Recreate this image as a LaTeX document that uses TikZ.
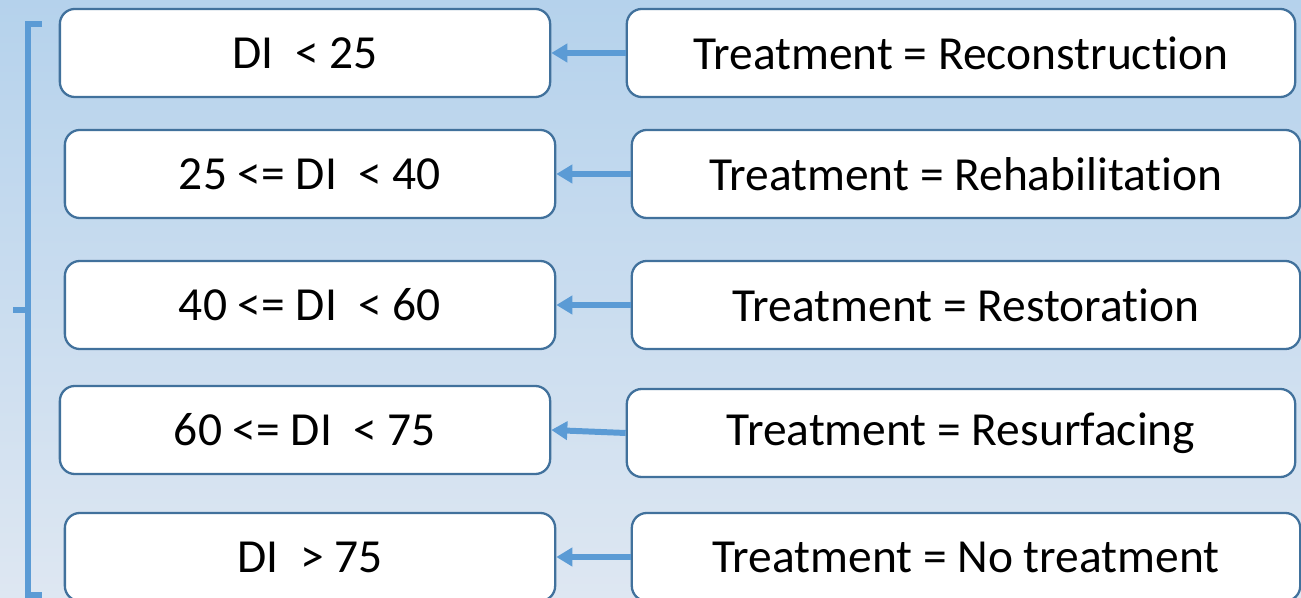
\documentclass[tikz,border=0pt]{standalone}
\usepackage{fontspec}
\setmainfont[Ligatures={NoCommon,NoContextual},Contextuals=NoAlternate]{Carlito}
\usepackage{tikz}
\usetikzlibrary{arrows.meta}
\definecolor{bgtop}{RGB}{181,210,236}
\definecolor{bgbottom}{RGB}{222,231,242}
\definecolor{boxline}{RGB}{65,113,156}
\definecolor{arrowblue}{RGB}{91,155,213}

\begin{document}
\begin{tikzpicture}[x=0.01cm,y=-0.01cm,
    rangebox/.style={draw=boxline,line width=0.65pt,fill=white,rounded corners=0.15cm,
      minimum width=4.9cm,minimum height=0.88cm,font=\fontsize{13.5}{16}\selectfont},
    treatbox/.style={rangebox,minimum width=6.68cm},
    toarrow/.style={draw=arrowblue,line width=1.7pt,-{Triangle[length=0.16cm,width=0.18cm]}}]
      \useasboundingbox (0,0) rectangle (1301,598);
      \shade [top color=bgtop,bottom color=bgbottom] (0,0) rectangle (1301,598);
      \draw [arrowblue,line width=1.7pt] (42,24) -- (28,24) -- (28,595) -- (42,595);
      \draw [arrowblue,line width=1.7pt] (28,310) -- (13,310);
      \node [rangebox] (range 1) at (305,53) {DI~~< 25};
      \node [rangebox] (range 2) at (310,174) {25 <= DI~~< 40};
      \node [rangebox] (range 3) at (310,305) {40 <= DI~~< 60};
      \node [rangebox] (range 4) at (305,430) {60 <= DI~~< 75};
      \node [rangebox] (range 5) at (310,557) {DI~~> 75};
      \node [treatbox] (treat 1) at (961,53) {Treatment = Reconstruction};
      \node [treatbox] (treat 2) at (966,174) {Treatment = Rehabilitation};
      \node [treatbox] (treat 3) at (966,305) {Treatment = Restoration};
      \node [treatbox] (treat 4) at (961,433) {Treatment = Resurfacing};
      \node [treatbox] (treat 5) at (966,557) {Treatment = No treatment};
      \draw [toarrow] (treat 1) -- (range 1);
      \draw [toarrow] (treat 2) -- (range 2);
      \draw [toarrow] (treat 3) -- (range 3);
      \draw [toarrow] (treat 4.west) -- (range 4.east);
      \draw [toarrow] (treat 5) -- (range 5);
    \end{tikzpicture}
\end{document}
